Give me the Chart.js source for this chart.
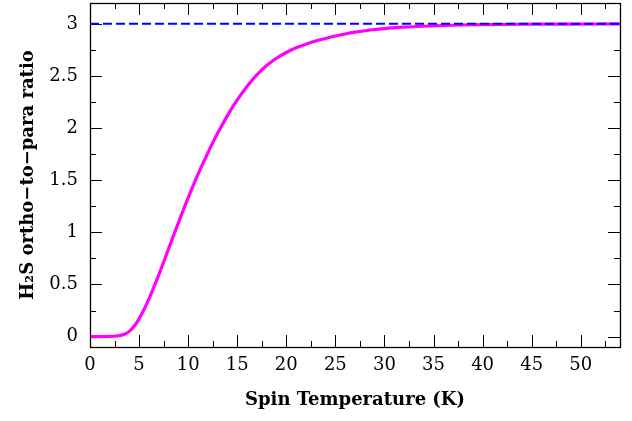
<!DOCTYPE html>
<html>
<head>
<meta charset="utf-8">
<script src="https://cdn.jsdelivr.net/npm/chart.js@4"></script>
<style>
  html, body { margin: 0; padding: 0; background: #fff; }
  #wrap { width: 632px; height: 421px; }
</style>
</head>
<body>
<div id="wrap"><canvas id="opr"></canvas></div>
<script>
// Spin temperature (K) and H2S ortho-to-para ratio
const spinTemp = [0, 1, 2, 2.5, 3, 3.5, 4, 4.5, 5, 6, 7, 8, 9, 10, 11, 12, 13, 14, 15, 16, 17, 18, 19, 20,
                  21, 22, 23, 24, 25, 26, 27, 28, 29, 30, 32, 34, 36, 38, 40, 44, 48, 54];
const orthoPara = [0, 0, 0.001, 0.003, 0.009, 0.022, 0.05, 0.1, 0.17, 0.36, 0.59, 0.84, 1.09, 1.33, 1.555, 1.76, 1.95, 2.12, 2.27, 2.4, 2.51, 2.6, 2.67, 2.725,
                   2.77, 2.805, 2.835, 2.86, 2.883, 2.903, 2.92, 2.934, 2.945, 2.955, 2.968, 2.977, 2.984, 2.989, 2.992, 2.996, 2.998, 2.999];

// High-temperature limit (statistical weight ratio)
const limitTemp = [0, 54];
const limitRatio = [3, 3];

const xTicksStep = 5;
const yTicksStep = 0.5;

const TICK_FONT = { family: "'DejaVu Serif', serif", size: 18 };
const TITLE_FONT = { family: "'DejaVu Serif', serif", size: 18, weight: 'bold' };

/**
 * Inward major/minor ticks on all four sides (under the curves), frame on top
 */
const frameTicks = {
    id: 'frameTicks',
    beforeDatasetsDraw(chart) {
        const { ctx, chartArea: a, scales: { x, y } } = chart;
        const major = 12, minor = 6;
        ctx.save();
        ctx.strokeStyle = '#000';
        ctx.lineWidth = 1;
        ctx.beginPath();

        const xMajor = x.ticks.map(t => t.value);
        const xMinor = [];
        xMajor.forEach(v => {
            [v - xTicksStep / 2, v + xTicksStep / 2].forEach(m => {
                if (m >= x.min && m <= x.max && !xMinor.includes(m)) xMinor.push(m);
            });
        });
        const yMajor = y.ticks.map(t => t.value);
        const yMinor = [];
        yMajor.forEach(v => {
            [v - yTicksStep / 2, v + yTicksStep / 2].forEach(m => {
                if (m >= y.min && m <= y.max && !yMinor.includes(m)) yMinor.push(m);
            });
        });

        const vTick = (v, len) => {
            const px = Math.round(x.getPixelForValue(v)) + 0.5;
            ctx.moveTo(px, a.bottom); ctx.lineTo(px, a.bottom - len);
            ctx.moveTo(px, a.top); ctx.lineTo(px, a.top + len);
        };
        const hTick = (v, len) => {
            const py = Math.round(y.getPixelForValue(v)) + 0.5;
            ctx.moveTo(a.left, py); ctx.lineTo(a.left + len, py);
            ctx.moveTo(a.right, py); ctx.lineTo(a.right - len, py);
        };
        xMajor.forEach(v => vTick(v, major));
        xMinor.forEach(v => vTick(v, minor));
        yMajor.forEach(v => hTick(v, major));
        yMinor.forEach(v => hTick(v, minor));
        ctx.stroke();
        ctx.restore();
    },
    afterDraw(chart) {
        const { ctx, chartArea: a } = chart;
        ctx.save();
        ctx.strokeStyle = '#000';
        ctx.lineWidth = 1.3;
        ctx.strokeRect(Math.round(a.left) + 0.5, Math.round(a.top) + 0.5,
                       Math.round(a.right - a.left), Math.round(a.bottom - a.top));
        ctx.restore();
    }
};

new Chart(document.getElementById('opr'), {
    type: 'line',
    data: {
        datasets: [
            {
                data: limitTemp.map((t, i) => ({ x: t, y: limitRatio[i] })),
                borderColor: '#0000ff',
                borderWidth: 2,
                borderDash: [9, 4],
                pointRadius: 0,
                fill: false,
                order: 0
            },
            {
                data: spinTemp.map((t, i) => ({ x: t, y: orthoPara[i] })),
                borderColor: '#ff00ff',
                borderWidth: 3.2,
                cubicInterpolationMode: 'monotone',
                pointRadius: 0,
                fill: false,
                order: 1
            }
        ]
    },
    options: {
        responsive: true,
        maintainAspectRatio: false,
        animation: false,
        layout: { padding: { top: 3, right: 12, left: 0, bottom: 0 } },
        plugins: {
            legend: { display: false },
            tooltip: { enabled: false }
        },
        scales: {
            x: {
                type: 'linear',
                min: 0,
                max: 54,
                afterFit: s => { s.height = 74; s.paddingLeft = 0; s.paddingRight = 0; },
                grid: { display: false, drawTicks: false },
                border: { display: false },
                ticks: {
                    stepSize: xTicksStep,
                    includeBounds: false,
                    color: '#000',
                    font: TICK_FONT,
                    padding: 8,
                    maxRotation: 0
                },
                title: {
                    display: true,
                    text: 'Spin Temperature (K)',
                    color: '#000',
                    font: TITLE_FONT,
                    padding: { top: 0, bottom: 10 }
                }
            },
            y: {
                min: -0.1,
                max: 3.2,
                afterFit: s => { s.width = 90; s.paddingTop = 0; s.paddingBottom = 0; },
                grid: { display: false, drawTicks: false },
                border: { display: false },
                ticks: {
                    stepSize: yTicksStep,
                    includeBounds: false,
                    color: '#000',
                    font: TICK_FONT,
                    padding: 12,
                    callback: v => String(+v.toFixed(2))
                },
                title: {
                    display: true,
                    text: 'H₂S ortho−to−para ratio',
                    color: '#000',
                    font: TITLE_FONT,
                    padding: { top: 18, bottom: 0 }
                }
            }
        }
    },
    plugins: [frameTicks]
});
</script>
</body>
</html>
